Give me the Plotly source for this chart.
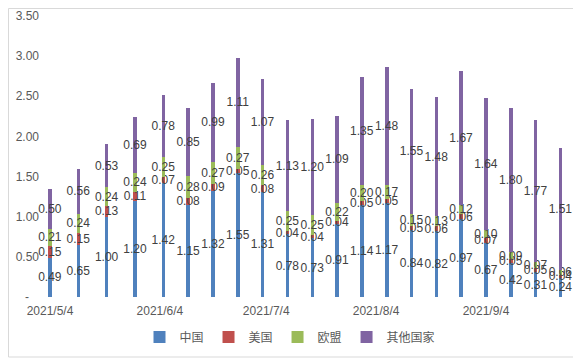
import plotly.graph_objects as go

dates = ["2021-05-04", "2021-05-12", "2021-05-20", "2021-05-28", "2021-06-05",
         "2021-06-12", "2021-06-19", "2021-06-26", "2021-07-03", "2021-07-10",
         "2021-07-17", "2021-07-24", "2021-07-31", "2021-08-07", "2021-08-14",
         "2021-08-21", "2021-08-28", "2021-09-04", "2021-09-11", "2021-09-18",
         "2021-09-25"]

china = [0.49, 0.65, 1.00, 1.20, 1.42, 1.15, 1.32, 1.55, 1.31, 0.78, 0.73,
         0.91, 1.14, 1.17, 0.84, 0.82, 0.97, 0.67, 0.42, 0.31, 0.24]
usa = [0.15, 0.15, 0.13, 0.11, 0.07, 0.08, 0.09, 0.05, 0.08, 0.04, 0.04,
       0.04, 0.05, 0.05, 0.05, 0.06, 0.06, 0.07, 0.05, 0.05, 0.04]
eu = [0.21, 0.24, 0.24, 0.24, 0.25, 0.28, 0.27, 0.27, 0.26, 0.25, 0.25,
      0.22, 0.20, 0.17, 0.15, 0.13, 0.12, 0.10, 0.09, 0.07, 0.06]
others = [0.50, 0.56, 0.53, 0.69, 0.78, 0.85, 0.99, 1.11, 1.07, 1.13, 1.20,
          1.09, 1.35, 1.48, 1.55, 1.48, 1.67, 1.64, 1.80, 1.77, 1.51]

series_names = ["中国", "美国", "欧盟", "其他国家"]
series_values = [china, usa, eu, others]
colors = ["#4F81BD", "#C0504D", "#9BBB59", "#8064A2"]

xtick_vals = ["2021-05-04", "2021-06-04", "2021-07-04", "2021-08-04", "2021-09-04"]
xtick_text = ["2021/5/4", "2021/6/4", "2021/7/4", "2021/8/4", "2021/9/4"]
ytick_vals = [0, 0.5, 1.0, 1.5, 2.0, 2.5, 3.0, 3.5]
ytick_text = ["-\u00a0\u00a0\u00a0", "0.50", "1.00", "1.50", "2.00", "2.50", "3.00", "3.50"]

DAY_MS = 86400000

fig = go.Figure()
for name, vals, col in zip(series_names, series_values, colors):
    fig.add_trace(go.Bar(
        x=dates, y=vals, name=name,
        marker=dict(color=col, line=dict(width=0)),
        width=DAY_MS * 1.0,
        text=[f"{v:.2f}" for v in vals],
        textposition="inside",
        insidetextanchor="middle",
        constraintext="none",
        textangle=0,
        textfont=dict(family="Liberation Sans, Arial, sans-serif", size=12, color="#404040"),
        cliponaxis=False,
    ))

# The page body adds an 8px offset; the figure is sized to fit the window.
W, H = 573, 354
L, R, T, B = 32, 2, 8, 65
pw = W - L - R
ph = H - T - B

fig.update_layout(
    barmode="stack",
    width=W, height=H,
    margin=dict(l=L, r=R, t=T, b=B, autoexpand=False),
    paper_bgcolor="white",
    plot_bgcolor="white",
    font=dict(family="Liberation Sans, Arial, sans-serif", size=12, color="#595959"),
    showlegend=True,
    legend=dict(orientation="h", x=(282 - L) / pw, xanchor="center",
                y=-40 / ph, yanchor="middle",
                traceorder="normal",
                font=dict(family="Noto Sans CJK SC, sans-serif", size=12, color="#595959"),
                itemwidth=30,
                bgcolor="rgba(0,0,0,0)"),
    xaxis=dict(
        type="date",
        range=["2021-05-01 04:20", "2021-09-30 05:30"],
        tickmode="array", tickvals=xtick_vals, ticktext=xtick_text,
        showgrid=False, zeroline=False, showline=False, ticks="",
        tickfont=dict(size=12, color="#595959"),
        ticklabelstandoff=5,
        automargin=False,
    ),
    yaxis=dict(
        range=[0, 3.5],
        tickmode="array", tickvals=ytick_vals, ticktext=ytick_text,
        showgrid=False, zeroline=False, showline=False, ticks="",
        tickfont=dict(size=12, color="#595959"),
        automargin=False,
    ),
    shapes=[dict(type="rect", xref="paper", yref="paper",
                 x0=(0.5 - L) / pw, x1=(569 - L) / pw,
                 y0=(ph + T - 349) / ph, y1=(ph + T - 0.5) / ph,
                 line=dict(color="#D9D9D9", width=1), fillcolor="rgba(0,0,0,0)",
                 layer="below")],
)

fig.write_html("out.html")
